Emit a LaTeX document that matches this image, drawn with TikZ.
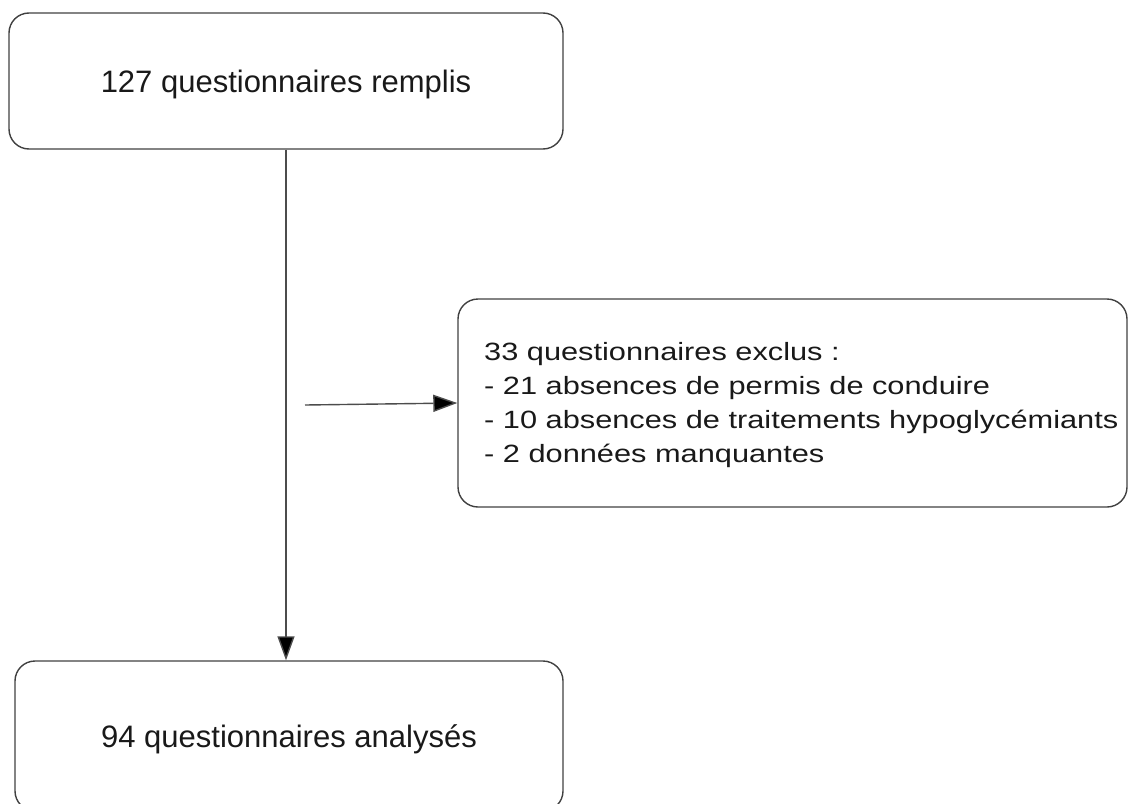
\documentclass[tikz,border=0pt]{standalone}
\usepackage{fontspec}
\setmainfont{Liberation Sans}
\usetikzlibrary{arrows.meta}
\begin{document}
\begin{tikzpicture}[x=1pt,y=-1pt,
  box/.style={draw=black!75,line width=1.4pt,rounded corners=20pt,inner sep=0pt},
  conn/.style={draw=black!70,line width=1.4pt,-{Triangle[length=24pt,width=17pt,fill=black]}},
  big/.style={font=\fontsize{31}{35}\selectfont,text=black!90}]
\useasboundingbox (0,0) rectangle (1129,803);
\node[box,big,minimum width=554pt,minimum height=136pt,text height=22pt,text depth=0pt]
  (top) at (286,81) {127 questionnaires remplis};
\node[box,big,minimum width=548pt,minimum height=150pt,text height=22pt,text depth=0pt]
  (bot) at (289,736) {94 questionnaires analysés};
\node[box,minimum width=669pt,minimum height=208pt] (excl) at (792.5,403) {};
\node[inner sep=0pt,anchor=base west,text=black!90] (excltxt) at (484,360)
  {\scalebox{1.23}[1]{\fontsize{25}{34}\selectfont\begin{tabular}[t]{@{}l@{}}
  33 questionnaires exclus :\\
  - 21 absences de permis de conduire\\
  - 10 absences de traitements hypoglycémiants\\
  - 2 données manquantes
  \end{tabular}}};
\coordinate (src) at (305,405);
\draw[conn] (top.south) -- (top.south |- bot.north);
\draw[conn] (src) -- (excl.west);
\end{tikzpicture}
\end{document}
